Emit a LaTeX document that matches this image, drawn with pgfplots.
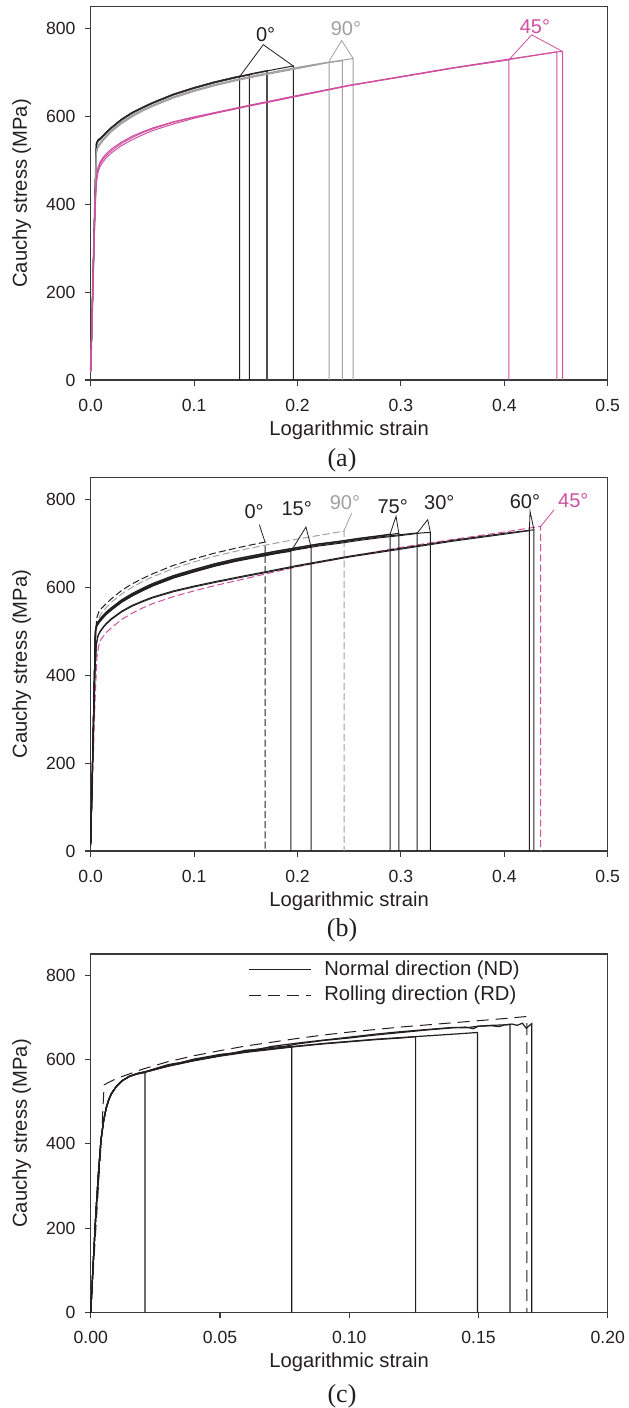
\documentclass[border=0pt]{standalone}
\usepackage{fontspec}
\setmainfont{Liberation Sans}
\newfontfamily\capfont{Liberation Serif}
\usepackage{pgfplots}
\pgfplotsset{compat=1.18}

\definecolor{ink}{HTML}{231F20}
\definecolor{axc}{HTML}{3A3A3A}
\definecolor{gry}{HTML}{A0A0A0}
\definecolor{mag}{HTML}{D04FA0}

\newcommand{\tl}{\fontsize{10.1}{12}\selectfont}
\newcommand{\tk}{\fontsize{8.8}{10}\selectfont}
\newcommand{\angf}{\fontsize{10}{12}\selectfont}

\pgfplotsset{
  panel/.style={
    scale only axis, width=258.5pt,
    xmin=0, ymin=0, ymax=850,
    ytick={0,200,400,600,800},
    axis line style={axc, line width=0.55pt},
    tick style={axc, line width=0.55pt},
    tick align=outside, major tick length=2.8pt,
    xtick pos=bottom, ytick pos=left,
    /pgf/number format/assume math mode=true,
    tick label style={font=\tk, text=ink},
    yticklabel style={inner sep=0pt, anchor=east, xshift=-4.6pt},
    xticklabel style={inner sep=0pt, anchor=north, yshift=-6.4pt,
      /pgf/number format/fixed, /pgf/number format/fixed zerofill},
    every axis x label/.style={at={(axis description cs:0.5,0)}, anchor=center, yshift=-25pt, font=\tl, text=ink},
    every axis y label/.style={at={(axis description cs:-0.1335,0.5)}, anchor=center, rotate=90, font=\tl, text=ink},
    xlabel={Logarithmic strain},
    ylabel={Cauchy stress (MPa)},
    clip=false,
  },
  thin line/.style={line width=0.5pt},
}

\begin{document}
\begin{tikzpicture}
\useasboundingbox (0,0) rectangle (314pt,-704pt);

% ---------------- (a)
\begin{axis}[panel, at={(45.35pt,-3.35pt)}, anchor=north west, height=186.65pt,
  xmax=0.5, xtick={0,0.1,0.2,0.3,0.4,0.5},
  xticklabel style={/pgf/number format/precision=1}]
% 0 deg
\addplot[ink, thin line] coordinates {(0,20)(0.0055,538)(0.007,546)(0.01,552)(0.015,564)(0.02,575)(0.03,594)(0.04,609)(0.05,621)(0.06,632)(0.08,651)(0.1,666)(0.12,679)(0.14,690)(0.1441,692)(0.1441,0)};
\addplot[ink, thin line] coordinates {(0,18)(0.0055,533)(0.007,543)(0.01,549)(0.015,562)(0.02,573)(0.03,592)(0.04,607)(0.05,619)(0.06,630)(0.08,649)(0.1,664)(0.12,677)(0.14,688)(0.1534,695)(0.1534,0)};
\addplot[ink!80, line width=0.8pt] coordinates {(0,22)(0.0055,536)(0.007,545)(0.01,551)(0.015,563)(0.02,574)(0.03,593)(0.04,608)(0.05,620)(0.06,631)(0.08,650)(0.1,665)(0.12,678)(0.14,689)(0.16,699)(0.1705,704)(0.1705,0)};
\addplot[ink, thin line] coordinates {(0,20)(0.0055,540)(0.007,547)(0.01,552)(0.015,564)(0.02,575)(0.03,594)(0.04,609)(0.05,620)(0.06,631)(0.08,650)(0.1,665)(0.12,678)(0.14,689)(0.16,699)(0.18,708)(0.1959,715)(0.1959,0)};
% 90 deg
\addplot[gry, thin line] coordinates {(0,18)(0.0055,516)(0.007,528)(0.01,539)(0.015,553)(0.02,565)(0.03,584)(0.04,599)(0.05,612)(0.06,623)(0.08,642)(0.1,657)(0.12,670)(0.14,681)(0.16,691)(0.18,700)(0.2,709)(0.22,718)(0.2305,724)(0.2305,0)};
\addplot[gry, thin line] coordinates {(0,20)(0.0055,520)(0.007,531)(0.01,541)(0.015,555)(0.02,567)(0.03,586)(0.04,601)(0.05,614)(0.06,625)(0.08,644)(0.1,659)(0.12,672)(0.14,683)(0.16,693)(0.18,702)(0.2,711)(0.22,719)(0.24,726)(0.2433,727)(0.2433,0)};
\addplot[gry, thin line] coordinates {(0,22)(0.0055,523)(0.007,533)(0.01,543)(0.015,557)(0.02,569)(0.03,588)(0.04,603)(0.05,615)(0.06,626)(0.08,645)(0.1,660)(0.12,673)(0.14,684)(0.16,694)(0.18,703)(0.2,712)(0.22,720)(0.24,727)(0.2537,732)(0.2537,0)};
% 45 deg
\addplot[mag, thin line] coordinates {(0,18)(0.004,370)(0.0055,448)(0.007,472)(0.009,486)(0.012,497)(0.015,506)(0.02,517)(0.03,534)(0.04,547)(0.05,558)(0.06,568)(0.08,583)(0.1,596)(0.12,607)(0.15,622)(0.2,646)(0.25,670)(0.3,690)(0.35,710)(0.4044,729)(0.4044,0)};
\addplot[mag, thin line] coordinates {(0,20)(0.004,380)(0.0055,455)(0.007,478)(0.009,492)(0.012,503)(0.015,511)(0.02,522)(0.03,539)(0.04,552)(0.05,563)(0.06,572)(0.08,587)(0.1,598)(0.12,608)(0.15,623)(0.2,647)(0.25,671)(0.3,690)(0.35,710)(0.4,728)(0.4509,747)(0.4509,0)};
\addplot[mag, thin line] coordinates {(0,22)(0.004,390)(0.0055,462)(0.007,483)(0.009,496)(0.012,507)(0.015,515)(0.02,526)(0.03,542)(0.04,555)(0.05,565)(0.06,574)(0.08,588)(0.1,599)(0.12,609)(0.15,624)(0.2,648)(0.25,671)(0.3,691)(0.35,711)(0.4,729)(0.45,747)(0.4563,748)(0.4563,0)};
% callouts
\draw[ink, line width=0.4pt] (axis cs:0.1441,691) -- (axis cs:0.1669,763.5) -- (axis cs:0.1959,715);
\draw[gry, line width=0.4pt] (axis cs:0.2305,725.6) -- (axis cs:0.2427,773) -- (axis cs:0.2537,732.5);
\draw[mag, line width=0.4pt] (axis cs:0.4044,729) -- (axis cs:0.4265,786) -- (axis cs:0.4563,748);
\node[font=\angf, text=ink] at (axis cs:0.1692,786) {0°};
\node[font=\angf, text=gry] at (axis cs:0.2469,799) {90°};
\node[font=\angf, text=mag] at (axis cs:0.4296,805) {45°};
\end{axis}

% ---------------- (b)
\begin{axis}[panel, at={(45.35pt,-238.75pt)}, anchor=north west, height=186.75pt,
  xmax=0.5, xtick={0,0.1,0.2,0.3,0.4,0.5},
  xticklabel style={/pgf/number format/precision=1}]
\addplot[ink, thin line, dash pattern=on 3.5pt off 1.6pt] coordinates {(0,20)(0.0055,528)(0.008,545)(0.01,551)(0.015,563)(0.02,574)(0.03,593)(0.04,608)(0.05,620)(0.06,631)(0.08,650)(0.1,665)(0.12,678)(0.14,689)(0.16,699)(0.1686,703)(0.1686,0)};
\addplot[gry, thin line, dash pattern=on 3.5pt off 1.6pt] coordinates {(0,20)(0.0055,512)(0.008,530)(0.01,540)(0.015,554)(0.02,566)(0.03,585)(0.04,600)(0.05,613)(0.06,624)(0.08,643)(0.1,658)(0.12,671)(0.14,682)(0.16,692)(0.18,701)(0.2,710)(0.22,718)(0.245,728)(0.245,0)};
\addplot[mag, thin line, dash pattern=on 3.5pt off 1.6pt] coordinates {(0,15)(0.004,330)(0.006,440)(0.008,470)(0.01,482)(0.015,497)(0.02,508)(0.03,527)(0.04,541)(0.05,553)(0.06,563)(0.08,579)(0.1,592)(0.12,604)(0.15,620)(0.17,631)(0.2,647)(0.25,670)(0.3,691)(0.35,709)(0.4,726)(0.4352,739)(0.4352,0)};
% 15 deg
\addplot[ink, thin line] coordinates {(0,12)(0.0045,497)(0.006,512)(0.008,519)(0.01,525)(0.015,538)(0.02,548)(0.03,566)(0.04,580)(0.05,592)(0.06,603)(0.08,621)(0.1,635)(0.12,648)(0.14,659)(0.16,668)(0.18,677)(0.1937,682)(0.1937,0)};
\addplot[ink, thin line] coordinates {(0,14)(0.0045,499)(0.006,514)(0.008,521)(0.01,527)(0.015,540)(0.02,550)(0.03,568)(0.04,582)(0.05,594)(0.06,605)(0.08,623)(0.1,637)(0.12,650)(0.14,661)(0.16,670)(0.18,679)(0.2,687)(0.2131,692)(0.2131,0)};
% 75 deg
\addplot[ink, thin line] coordinates {(0,18)(0.0045,503)(0.006,518)(0.008,525)(0.01,531)(0.015,544)(0.02,554)(0.03,572)(0.04,586)(0.05,598)(0.06,609)(0.08,627)(0.1,641)(0.12,654)(0.14,665)(0.16,674)(0.18,683)(0.2,691)(0.22,699)(0.24,705)(0.26,712)(0.28,718)(0.2895,721)(0.2895,0)};
\addplot[ink, thin line] coordinates {(0,17)(0.0045,502)(0.006,517)(0.008,524)(0.01,530)(0.015,543)(0.02,553)(0.03,571)(0.04,585)(0.05,597)(0.06,608)(0.08,626)(0.1,640)(0.12,653)(0.14,664)(0.16,673)(0.18,682)(0.2,690)(0.22,698)(0.24,704)(0.26,711)(0.28,717)(0.298,723)(0.298,0)};
% 30 deg
\addplot[ink, thin line] coordinates {(0,15)(0.0045,500)(0.006,515)(0.008,522)(0.01,528)(0.015,541)(0.02,551)(0.03,569)(0.04,583)(0.05,595)(0.06,606)(0.08,624)(0.1,638)(0.12,651)(0.14,662)(0.16,671)(0.18,680)(0.2,688)(0.22,696)(0.24,702)(0.26,709)(0.28,715)(0.3,720)(0.3158,724)(0.3158,0)};
\addplot[ink, thin line] coordinates {(0,13)(0.0045,498)(0.006,513)(0.008,520)(0.01,526)(0.015,539)(0.02,549)(0.03,567)(0.04,581)(0.05,593)(0.06,604)(0.08,622)(0.1,636)(0.12,649)(0.14,660)(0.16,669)(0.18,678)(0.2,686)(0.22,694)(0.24,700)(0.26,707)(0.28,713)(0.3,718)(0.32,724)(0.3286,725)(0.3286,0)};
% 60 deg
\addplot[ink, thin line] coordinates {(0,15)(0.004,400)(0.0055,470)(0.007,488)(0.009,498)(0.012,508)(0.015,516)(0.02,527)(0.03,544)(0.04,557)(0.05,567)(0.06,576)(0.08,590)(0.1,601)(0.12,611)(0.15,625)(0.17,634)(0.2,648)(0.25,669)(0.3,687)(0.35,705)(0.4,721)(0.4242,729)(0.4242,0)};
\addplot[ink, thin line] coordinates {(0,17)(0.004,402)(0.0055,472)(0.007,490)(0.009,500)(0.012,510)(0.015,518)(0.02,529)(0.03,546)(0.04,559)(0.05,569)(0.06,578)(0.08,592)(0.1,603)(0.12,613)(0.15,627)(0.17,636)(0.2,650)(0.25,671)(0.3,689)(0.35,707)(0.4,723)(0.4287,731)(0.4287,0)};
% callouts
\draw[ink, line width=0.4pt] (axis cs:0.1631,742.6) -- (axis cs:0.1686,703);
\draw[ink, line width=0.4pt] (axis cs:0.1937,682) -- (axis cs:0.2082,737.4) -- (axis cs:0.2131,692);
\draw[gry, line width=0.4pt] (axis cs:0.2524,769.3) -- (axis cs:0.245,729);
\draw[ink, line width=0.4pt] (axis cs:0.2895,721) -- (axis cs:0.2953,761.5) -- (axis cs:0.298,723);
\draw[ink, line width=0.4pt] (axis cs:0.3158,723.4) -- (axis cs:0.3259,754) -- (axis cs:0.3286,724.7);
\draw[ink, line width=0.4pt] (axis cs:0.4242,729) -- (axis cs:0.4249,773) -- (axis cs:0.4287,731);
\draw[mag, line width=0.4pt] (axis cs:0.4483,776.8) -- (axis cs:0.4352,739);
\node[font=\angf, text=ink] at (axis cs:0.158,773) {0°};
\node[font=\angf, text=ink] at (axis cs:0.1992,778.4) {15°};
\node[font=\angf, text=gry] at (axis cs:0.2459,792) {90°};
\node[font=\angf, text=ink] at (axis cs:0.2921,784.3) {75°};
\node[font=\angf, text=ink] at (axis cs:0.3371,792) {30°};
\node[font=\angf, text=ink] at (axis cs:0.42,795.7) {60°};
\node[font=\angf, text=mag] at (axis cs:0.4667,798) {45°};
\end{axis}

% ---------------- (c)
\begin{axis}[panel, at={(45.35pt,-477pt)}, anchor=north west, height=179.35pt,
  xmax=0.2, xtick={0,0.05,0.1,0.15,0.2},
  xticklabel style={/pgf/number format/precision=2},
  legend style={draw=none, fill=none, at={(axis description cs:0.3043,0.99)}, anchor=north west,
    font=\tl, text=ink, inner sep=0pt, row sep=0.8pt, nodes={inner sep=1.5pt}},
  legend image code/.code={\draw[#1, line width=0.45pt] (0pt,0pt) -- (31pt,0pt);},
  legend cell align=left]
\addplot[ink, line width=0.6pt] coordinates {(0,0)(0.001,120)(0.002,235)(0.003,330)(0.004,410)(0.005,455)(0.006,485)(0.007,505)(0.008,519)(0.01,537)(0.012,549)(0.015,560)(0.018,566)(0.021,569)(0.021,0)};
\addlegendentry{\hspace{5pt}Normal direction (ND)}
\addplot[ink, thin line, dash pattern=on 6pt off 3.5pt] coordinates {(0,0)(0.0042,420)(0.0052,540)(0.007,546)(0.01,555)(0.015,566)(0.02,577)(0.03,595)(0.04,609)(0.05,621)(0.06,632)(0.07,641)(0.08,650)(0.09,658)(0.1,665)(0.11,671)(0.12,677)(0.13,682)(0.14,687)(0.15,692)(0.16,697)(0.1687,702)(0.1687,0)};
\addlegendentry{\hspace{5pt}Rolling direction (RD)}
\addplot[ink, line width=0.6pt, forget plot] coordinates {(0,0)(0.001,120)(0.002,235)(0.003,330)(0.004,410)(0.005,455)(0.006,485)(0.007,505)(0.008,519)(0.01,537)(0.012,549)(0.015,560)(0.018,566)(0.021,570)(0.03,585)(0.04,598)(0.05,609)(0.06,619)(0.07,626)(0.0778,631)(0.0778,0)};
\addplot[ink, line width=0.6pt, forget plot] coordinates {(0,0)(0.001,120)(0.002,235)(0.003,330)(0.004,410)(0.005,455)(0.006,485)(0.007,505)(0.008,519)(0.01,537)(0.012,549)(0.015,560)(0.018,566)(0.021,570)(0.03,584)(0.04,597)(0.05,608)(0.06,617)(0.07,624)(0.08,631)(0.09,637)(0.1,642)(0.11,647)(0.12,651)(0.1257,654)(0.1257,0)};
\addplot[ink, line width=0.6pt, forget plot] coordinates {(0,0)(0.001,120)(0.002,235)(0.003,330)(0.004,410)(0.005,455)(0.006,485)(0.007,505)(0.008,519)(0.01,537)(0.012,549)(0.015,560)(0.018,566)(0.021,570)(0.03,585)(0.04,598)(0.05,609)(0.06,618)(0.07,625)(0.08,632)(0.09,638)(0.1,643)(0.11,648)(0.12,652)(0.13,656)(0.14,660)(0.1496,664)(0.1496,0)};
\addplot[ink, line width=0.6pt, forget plot] coordinates {(0,0)(0.001,120)(0.002,235)(0.003,330)(0.004,410)(0.005,455)(0.006,485)(0.007,505)(0.008,519)(0.01,537)(0.012,549)(0.015,560)(0.018,567)(0.021,571)(0.03,588)(0.035,593)(0.04,601)(0.05,612)(0.055,615)(0.06,622)(0.065,624)(0.07,631)(0.08,639)(0.09,646)(0.1,653)(0.11,660)(0.12,666)(0.13,671)(0.14,676)(0.145,675)(0.15,679)(0.155,681)(0.16,682)(0.1622,683)(0.1622,0)};
\addplot[ink, line width=0.6pt, forget plot] coordinates {(0,0)(0.001,120)(0.002,235)(0.003,330)(0.004,410)(0.005,455)(0.006,485)(0.007,505)(0.008,519)(0.01,537)(0.012,549)(0.015,561)(0.018,567)(0.021,571)(0.03,586)(0.04,600)(0.045,604)(0.05,611)(0.06,620)(0.065,625)(0.07,629)(0.075,631)(0.08,637)(0.09,645)(0.1,651)(0.11,658)(0.12,664)(0.13,670)(0.14,675)(0.145,677)(0.148,673)(0.15,679)(0.155,680)(0.158,678)(0.16,682)(0.163,684)(0.165,681)(0.167,686)(0.1685,674)(0.1706,685)(0.1706,0)};
\end{axis}

\node[font=\capfont\fontsize{13}{15}\selectfont, text=ink] at (171pt,-230.25pt) {(a)};
\node[font=\capfont\fontsize{13}{15}\selectfont, text=ink] at (171pt,-465.35pt) {(b)};
\node[font=\capfont\fontsize{13}{15}\selectfont, text=ink] at (171pt,-698pt) {(c)};
\end{tikzpicture}
\end{document}
